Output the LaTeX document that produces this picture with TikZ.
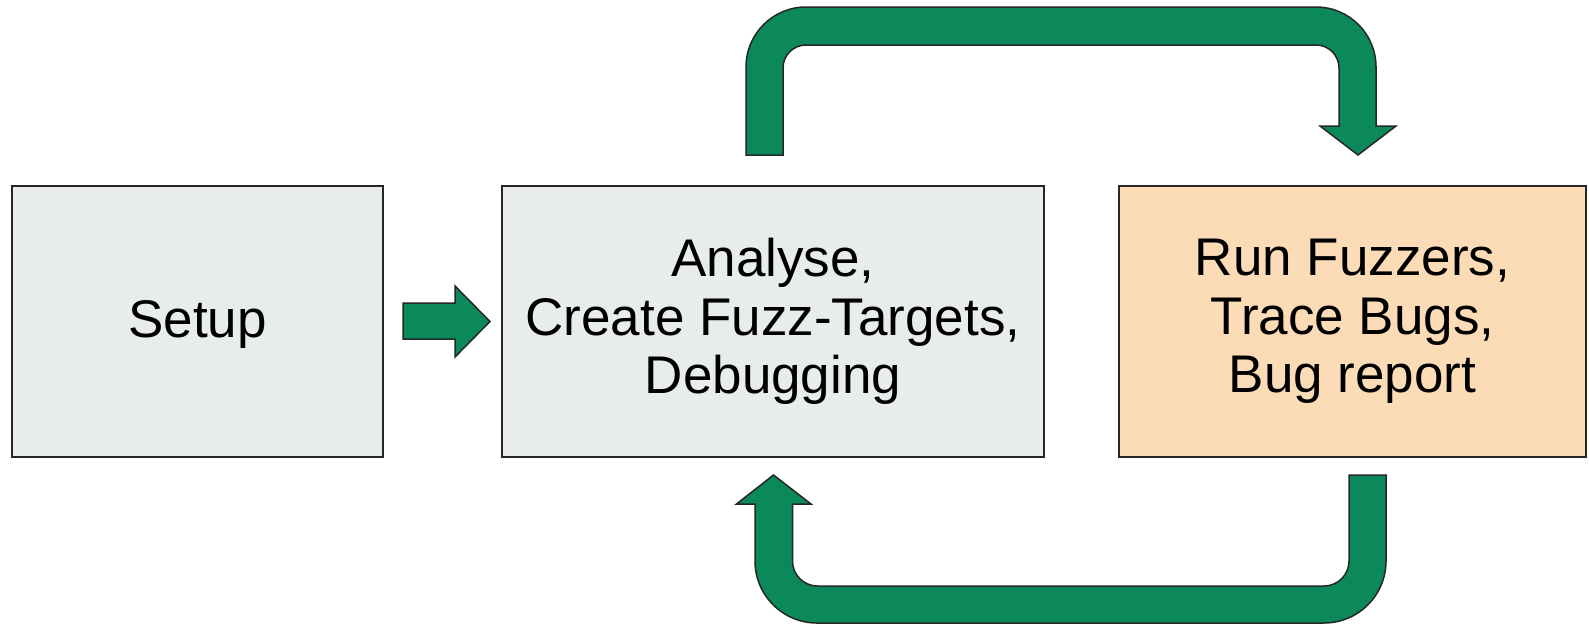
\documentclass[tikz,border=0pt]{standalone}
\usepackage{fontspec}
\setmainfont{Liberation Sans}
\definecolor{fuzzgreen}{RGB}{11,137,90}
\definecolor{boxgrey}{RGB}{232,236,237}
\definecolor{runorange}{RGB}{252,220,183}
\begin{document}
\begin{tikzpicture}[x=1pt,y=-1pt]
\tikzstyle{every node}+=[inner sep=0pt, font=\fontsize{53}{58.5}\selectfont]
\tikzstyle{box}=[draw=black!85, line width=1.5pt, minimum height=271pt, align=center]
\tikzstyle{fatarrow}=[draw=black!85, fill=fuzzgreen, line width=1.5pt, line join=miter]
\useasboundingbox (0,0) rectangle (1589,624);
% boxes
\node [box, fill=boxgrey, minimum width=371pt, text depth=5pt] (setup) at (197.5,321.5) {Setup};
\node [box, fill=boxgrey, minimum width=542pt] (analyse) at (773,321.5) {Analyse,\\Create Fuzz-Targets,\\Debugging};
\node [box, fill=runorange, minimum width=467pt] (fuzz) at (1352.5,321.5) {Run Fuzzers,\\Trace Bugs,\\Bug report};
% setup -> analyse
\draw [fatarrow] (403,303) -- (455,303) -- (455,286) -- (490,321.5) -- (455,357) -- (455,339) -- (403,339) -- cycle;
% analyse -> fuzz (over the top)
\draw [fatarrow] (746,155) [rounded corners=60pt] -- (746,7) -- (1376,7) [sharp corners] -- (1376,126)
  -- (1396,126) -- (1358,155) -- (1320,126) -- (1339,126) [rounded corners=23pt] -- (1339,45)
  -- (783,45) [sharp corners] -- (783,155) -- cycle;
% fuzz -> analyse (underneath)
\draw [fatarrow] (1349,475) -- (1386,475) [rounded corners=62pt] -- (1386,623) -- (755,623) [sharp corners]
  -- (755,504) -- (736.5,504) -- (773.5,475) -- (811,504) -- (792.5,504) [rounded corners=25pt]
  -- (792.5,586) -- (1349,586) [sharp corners] -- cycle;
\end{tikzpicture}
\end{document}
